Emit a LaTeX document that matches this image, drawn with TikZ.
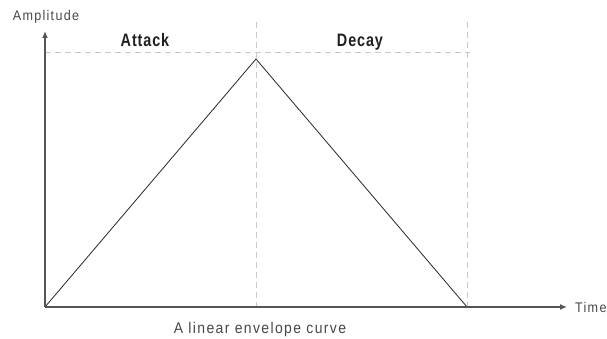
\documentclass[tikz,border=0pt]{standalone}
\usepackage{fontspec}
\setmainfont{Liberation Sans}
\newfontfamily\lblfont[FakeStretch=0.9,LetterSpace=9]{Liberation Sans}
\newfontfamily\headfont[FakeStretch=0.8,LetterSpace=5]{Liberation Sans}
\usetikzlibrary{arrows.meta}
\definecolor{axisc}{HTML}{555555}
\definecolor{dashc}{HTML}{C8C8C8}
\begin{document}
\begin{tikzpicture}[x=1pt,y=-1pt,
  axis/.style={draw=axisc,line width=1.4pt,-{Latex[length=7pt,width=6pt]}},
  guide/.style={draw=dashc,line width=1pt,dash pattern=on 6pt off 4pt},
  curve/.style={draw=black!85,line width=0.8pt},
  lbl/.style={inner sep=0pt,anchor=base,font=\lblfont\fontsize{14}{16}\selectfont,text=black!72},
  head/.style={inner sep=0pt,anchor=base,font=\headfont\bfseries\fontsize{18}{20}\selectfont,text=black!88}]
\useasboundingbox (0,0) rectangle (607,339);
\coordinate (O) at (45,307);
\coordinate (P) at (256,59);
\coordinate (E) at (467,307);
\coordinate (Ytop) at (45,31);
\coordinate (Xend) at (567,307);
\coordinate (Dl) at (45,53);
\coordinate (Dr) at (470,53);
\coordinate (V1t) at (256,22);
\coordinate (V1b) at (256,307);
\coordinate (V2t) at (467,22);
\coordinate (V2b) at (467,307);
\draw[guide] (Dl) -- (Dr);
\draw[guide] (V1t) -- (V1b);
\draw[guide] (V2t) -- (V2b);
\draw[curve] (O) -- (P) -- (E);
\draw[axis] (O) -- (Ytop);
\draw[axis] (O) -- (Xend);
\node[lbl] (amp) at (46,20.5) {Amplitude};
\node[lbl,anchor=base west] (time) at (575,312) {Time};
\node[head] (att) at (145,46.5) {Attack};
\node[head] (dec) at (360,46.5) {Decay};
\node[lbl,font=\lblfont\fontsize{15.5}{17}\selectfont] (cap) at (260,333) {A linear envelope curve};
\end{tikzpicture}
\end{document}
